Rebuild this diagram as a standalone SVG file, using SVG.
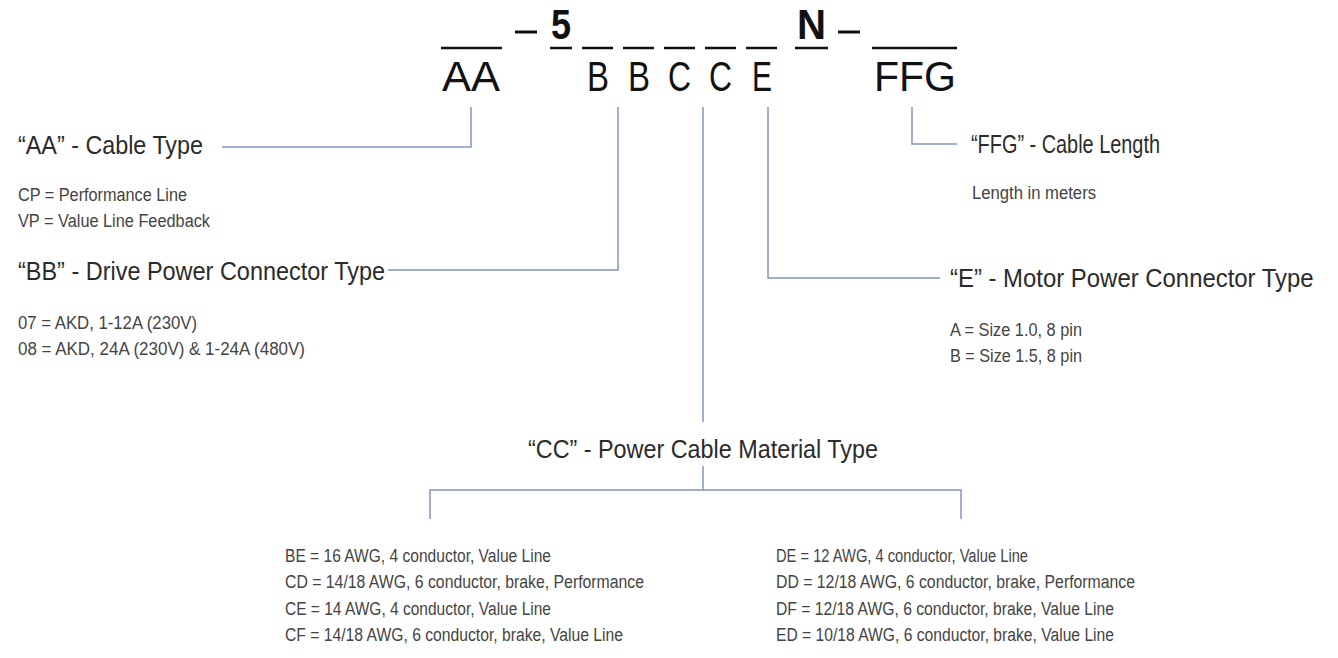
<svg xmlns="http://www.w3.org/2000/svg" width="1338" height="658" viewBox="0 0 1338 658">
<style>
  text { font-family: "Liberation Sans", Arial, sans-serif; }
  .code { font-size: 42px; fill: #111; }
  .bold { font-size: 42px; font-weight: bold; fill: #111; }
  .head { font-size: 26px; fill: #2b2b2b; }
  .item { font-size: 18px; fill: #444; }
  .bar { stroke: #111; stroke-width: 2.5; fill: none; }
  .conn { stroke: #8294c4; stroke-width: 1.5; fill: none; }
</style>
<rect width="1338" height="658" fill="#ffffff"/>

<g id="code-header">
  <line class="bar" x1="441" y1="48" x2="502" y2="48"/>
  <text class="code" x="442" y="91" textLength="58" lengthAdjust="spacingAndGlyphs">AA</text>
  <line x1="515" y1="32" x2="537" y2="32" stroke="#111" stroke-width="3"/>
  <text class="bold" x="551" y="39" textLength="20" lengthAdjust="spacingAndGlyphs">5</text>
  <line class="bar" x1="550" y1="48" x2="572" y2="48"/>
  <line class="bar" x1="582" y1="48" x2="613" y2="48"/>
  <text class="code" x="587" y="91" textLength="22" lengthAdjust="spacingAndGlyphs">B</text>
  <line class="bar" x1="623" y1="48" x2="654" y2="48"/>
  <text class="code" x="628" y="91" textLength="22" lengthAdjust="spacingAndGlyphs">B</text>
  <line class="bar" x1="664" y1="48" x2="695" y2="48"/>
  <text class="code" x="668" y="91" textLength="23" lengthAdjust="spacingAndGlyphs">C</text>
  <line class="bar" x1="705" y1="48" x2="736" y2="48"/>
  <text class="code" x="709" y="91" textLength="23" lengthAdjust="spacingAndGlyphs">C</text>
  <line class="bar" x1="746" y1="48" x2="777" y2="48"/>
  <text class="code" x="752" y="91" textLength="20" lengthAdjust="spacingAndGlyphs">E</text>
  <text class="bold" x="797" y="39" textLength="29" lengthAdjust="spacingAndGlyphs">N</text>
  <line class="bar" x1="795" y1="48" x2="828" y2="48"/>
  <line x1="838" y1="32" x2="860" y2="32" stroke="#111" stroke-width="3"/>
  <line class="bar" x1="872" y1="48" x2="957" y2="48"/>
  <text class="code" x="874" y="91" textLength="82" lengthAdjust="spacingAndGlyphs">FFG</text>
</g>

<g id="connectors">
  <polyline class="conn" points="471,107 471,147 222,147"/>
  <polyline class="conn" points="618,107 618,270 388,270"/>
  <line class="conn" x1="703" y1="107" x2="703" y2="422"/>
  <line class="conn" x1="703" y1="466" x2="703" y2="490"/>
  <polyline class="conn" points="430,519 430,490 961,490 961,519"/>
  <polyline class="conn" points="768,107 768,278 940,278"/>
  <polyline class="conn" points="912,107 912,144 957,144"/>
</g>

<g id="node-AA">
  <text class="head" x="18" y="154" textLength="185" lengthAdjust="spacingAndGlyphs">“AA” - Cable Type</text>
  <text class="item" x="18" y="201" textLength="169" lengthAdjust="spacingAndGlyphs">CP = Performance Line</text>
  <text class="item" x="18" y="227" textLength="192" lengthAdjust="spacingAndGlyphs">VP = Value Line Feedback</text>
</g>

<g id="node-BB">
  <text class="head" x="18" y="280" textLength="367" lengthAdjust="spacingAndGlyphs">“BB” - Drive Power Connector Type</text>
  <text class="item" x="18" y="329" textLength="179" lengthAdjust="spacingAndGlyphs">07 = AKD, 1-12A (230V)</text>
  <text class="item" x="18" y="355" textLength="287" lengthAdjust="spacingAndGlyphs">08 = AKD, 24A (230V) &amp; 1-24A (480V)</text>
</g>

<g id="node-FFG">
  <text class="head" x="971" y="153" textLength="189" lengthAdjust="spacingAndGlyphs">“FFG” - Cable Length</text>
  <text class="item" x="972" y="199" textLength="124" lengthAdjust="spacingAndGlyphs">Length in meters</text>
</g>

<g id="node-E">
  <text class="head" transform="translate(950 287) scale(0.92 1)" x="0" y="0">“E” - Motor Power Connector Type</text>
  <text class="item" x="950" y="336" textLength="132" lengthAdjust="spacingAndGlyphs">A = Size 1.0, 8 pin</text>
  <text class="item" x="950" y="362" textLength="132" lengthAdjust="spacingAndGlyphs">B = Size 1.5, 8 pin</text>
</g>

<g id="node-CC">
  <text class="head" x="528" y="458" textLength="350" lengthAdjust="spacingAndGlyphs">“CC” - Power Cable Material Type</text>
  <text class="item" x="285" y="562" textLength="266" lengthAdjust="spacingAndGlyphs">BE = 16 AWG, 4 conductor, Value Line</text>
  <text class="item" x="285" y="588" textLength="359" lengthAdjust="spacingAndGlyphs">CD = 14/18 AWG, 6 conductor, brake, Performance</text>
  <text class="item" x="285" y="615" textLength="266" lengthAdjust="spacingAndGlyphs">CE = 14 AWG, 4 conductor, Value Line</text>
  <text class="item" x="285" y="641" textLength="338" lengthAdjust="spacingAndGlyphs">CF = 14/18 AWG, 6 conductor, brake, Value Line</text>
  <text class="item" x="776" y="562" textLength="252" lengthAdjust="spacingAndGlyphs">DE = 12 AWG, 4 conductor, Value Line</text>
  <text class="item" x="776" y="588" textLength="359" lengthAdjust="spacingAndGlyphs">DD = 12/18 AWG, 6 conductor, brake, Performance</text>
  <text class="item" x="776" y="615" textLength="338" lengthAdjust="spacingAndGlyphs">DF = 12/18 AWG, 6 conductor, brake, Value Line</text>
  <text class="item" x="776" y="641" textLength="338" lengthAdjust="spacingAndGlyphs">ED = 10/18 AWG, 6 conductor, brake, Value Line</text>
</g>
</svg>
